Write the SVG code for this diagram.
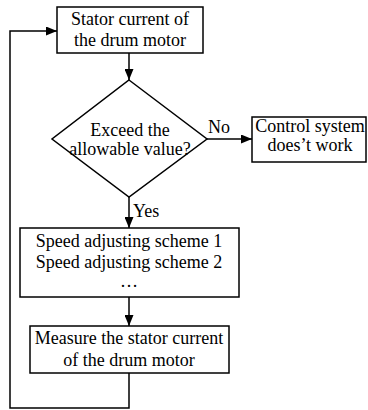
<svg xmlns="http://www.w3.org/2000/svg" width="368" height="410" viewBox="0 0 368 410">
<style>
.n{fill:#fff;stroke:#000;stroke-width:1.5}
.t{font-family:"Liberation Serif","Times New Roman",serif;font-size:18px;fill:#000;text-anchor:middle}
.l{font-family:"Liberation Serif","Times New Roman",serif;font-size:18px;fill:#000}
.c{fill:none;stroke:#000;stroke-width:1.5}
</style>
<defs>
<marker id="a" markerWidth="11" markerHeight="9" refX="11" refY="4.5" orient="auto" markerUnits="userSpaceOnUse">
<path d="M0,0 L11,4.5 L0,9 Z" fill="#000"/>
</marker>
</defs>
<rect width="368" height="410" fill="#fff"/>
<g id="connectors">
<path class="c" d="M129,53 V80" marker-end="url(#a)"/>
<path class="c" d="M207,139 H252" marker-end="url(#a)"/>
<path class="c" d="M129,197 V228" marker-end="url(#a)"/>
<path class="c" d="M129,297 V326" marker-end="url(#a)"/>
<path class="c" d="M129,373 V408 H10 V31 H57" marker-end="url(#a)"/>
<text class="l" x="208" y="133">No</text>
<text class="l" x="133" y="217">Yes</text>
</g>
<g id="n1">
<rect class="n" x="57" y="7" width="146" height="46"/>
<text class="t" x="130" y="25">Stator current of</text>
<text class="t" x="130" y="46">the drum motor</text>
</g>
<g id="n2">
<path class="n" d="M129,80 L207,139 L129,197 L52,139 Z"/>
<text class="t" x="130" y="136">Exceed the</text>
<text class="t" x="130" y="155">allowable value?</text>
</g>
<g id="n3">
<rect class="n" x="252" y="117" width="114" height="45"/>
<text class="t" x="310" y="132">Control system</text>
<text class="t" x="310" y="151">does’t work</text>
</g>
<g id="n4">
<rect class="n" x="20" y="228" width="219" height="69"/>
<text class="t" x="129" y="247">Speed adjusting scheme 1</text>
<text class="t" x="129" y="268">Speed adjusting scheme 2</text>
<text class="t" x="129" y="287">…</text>
</g>
<g id="n5">
<rect class="n" x="30" y="326" width="199" height="47"/>
<text class="t" x="129" y="344">Measure the stator current</text>
<text class="t" x="129" y="366">of the drum motor</text>
</g>
</svg>
